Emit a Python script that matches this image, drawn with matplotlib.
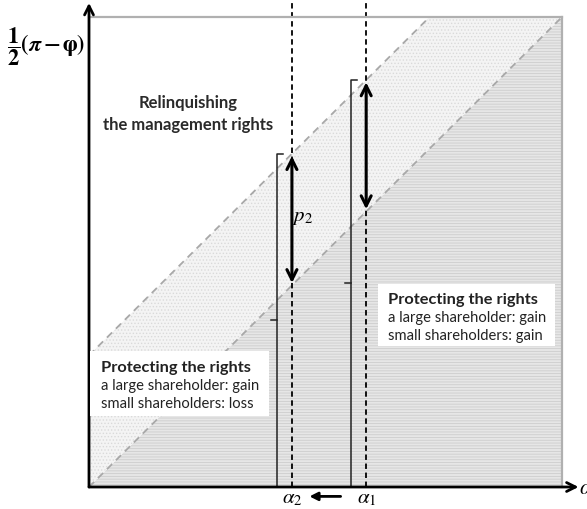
import numpy as np
import matplotlib
matplotlib.use("Agg")
import matplotlib.pyplot as plt
from matplotlib.patches import Rectangle

plt.rcParams['font.family'] = ['Lato', 'DejaVu Sans']
plt.rcParams['mathtext.fontset'] = 'stix'
plt.rcParams['hatch.linewidth'] = 0.6

# chart values (alpha axis and payoff axis both run 0..1)
alpha_names = [r'$\alpha_2$', r'$\alpha_1$']
alpha_vals = [0.429, 0.586]
brace_x = [0.397, 0.554]
band_gap = 0.28          # upper dashed line = lower line + gap
box_left = ["Protecting the rights", "a large shareholder: gain", "small shareholders: loss"]
box_right = ["Protecting the rights", "a large shareholder: gain", "small shareholders: gain"]
relinq = "Relinquishing\nthe management rights"

fig = plt.figure(figsize=(5.87, 5.10), dpi=100)
W, H = 587, 510
ax = fig.add_axes([89 / W, (510 - 488) / H, 473 / W, 470 / H])
ax.set_xlim(0, 1)
ax.set_ylim(0, 1)
ax.set_xticks([])
ax.set_yticks([])
for s in ['top', 'right']:
    ax.spines[s].set_color('#b0b0b0')
    ax.spines[s].set_linewidth(1.6)
for s in ['left', 'bottom']:
    ax.spines[s].set_visible(False)

# shaded regions
x = np.linspace(0, 1, 200)
ax.fill_between(x, 0, x, facecolor='#e6e6e6', edgecolor='#cdcdcd',
                hatch='------', linewidth=0)
ax.fill_between(x, x, np.minimum(x + band_gap, 1), facecolor='#f4f4f4',
                edgecolor='#dadada', hatch='.....', linewidth=0)

# dashed diagonals
ax.plot([0, 1], [0, 1], ls=(0, (4, 3)), color='#a8a8a8', lw=1.3)
ax.plot([0, 1 - band_gap], [band_gap, 1], ls=(0, (4, 3)), color='#a8a8a8', lw=1.3)

# axes with arrows
ax.annotate('', xy=(0, 1.03), xytext=(0, 0), annotation_clip=False,
            arrowprops=dict(arrowstyle='->', lw=2, color='black', mutation_scale=16,
                            shrinkA=0, shrinkB=0))
ax.annotate('', xy=(1.035, 0), xytext=(0, 0), annotation_clip=False,
            arrowprops=dict(arrowstyle='->', lw=2, color='black', mutation_scale=16,
                            shrinkA=0, shrinkB=0))

for a, bx, name in zip(alpha_vals, brace_x, alpha_names):
    top = a + band_gap
    # vertical dashed line
    ax.plot([a, a], [0, 1.04], ls=(0, (3, 2)), color='black', lw=1.3, clip_on=False)
    # brace
    ax.plot([bx + 0.013, bx, bx, bx + 0.013], [top, top, 0, 0], color='#222222', lw=1.1)
    ax.plot([bx - 0.013, bx], [top / 2, top / 2], color='#222222', lw=1.1)
    # double arrow
    ax.annotate('', xy=(a, top - 0.005), xytext=(a, a + 0.005),
                arrowprops=dict(arrowstyle='<->', lw=2.2, color='black', mutation_scale=18,
                                shrinkA=0, shrinkB=0))
    ax.text(a, -0.021, name, ha='center', va='center', fontsize=15)

ax.annotate('', xy=(0.466, -0.02), xytext=(0.532, -0.02), annotation_clip=False,
            arrowprops=dict(arrowstyle='-|>', lw=2, color='black', mutation_scale=12,
                            shrinkA=0, shrinkB=0))
ax.text(1.036, 0, r'$\alpha$', ha='left', va='center', fontsize=16, clip_on=False)
ax.text(0.452, 0.577, r'$p_2$', ha='center', va='center', fontsize=15)

ax.text(-0.008, 0.94, r'$\mathbf{\dfrac{1}{2}}\boldsymbol{(\pi-\varphi)}$',
        ha='right', va='center', fontsize=16)

ax.text(0.209, 0.796, relinq, ha='center', va='center', fontsize=12,
        fontweight='bold', color='#2a2a2a', linespacing=1.5)

# text boxes
ax.add_patch(Rectangle((0.002, 0.151), 0.378, 0.138, facecolor='white',
                       edgecolor='none', zorder=3))
ax.add_patch(Rectangle((0.611, 0.300), 0.374, 0.132, facecolor='white',
                       edgecolor='none', zorder=3))
for lines, x0, ys in [(box_left, 0.025, [0.255, 0.217, 0.179]),
                      (box_right, 0.632, [0.400, 0.362, 0.323])]:
    ax.text(x0, ys[0], lines[0], fontsize=11.8, fontweight='bold', color='#222222',
            va='center', zorder=4)
    for ln, yy in zip(lines[1:], ys[1:]):
        ax.text(x0, yy, ln, fontsize=10.6, color='#222222', va='center', zorder=4)

fig.savefig('out.png', dpi=100)
